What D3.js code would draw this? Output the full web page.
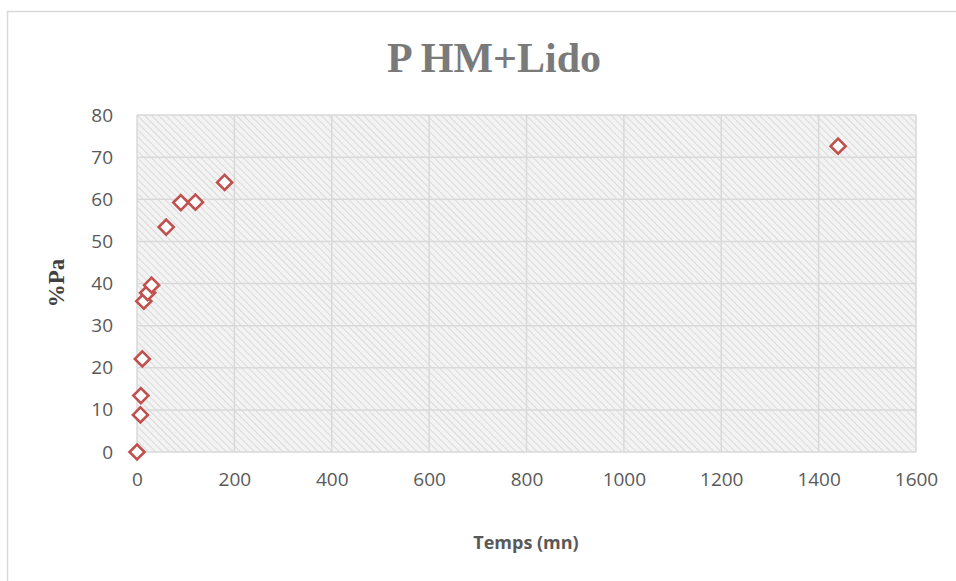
<!DOCTYPE html>
<meta charset="utf-8">
<style>
body { margin: 0; background: #fff; }
.tick text { font: 19px "Open Sans", "Liberation Sans", sans-serif; fill: #595959; }
</style>
<svg width="956" height="581"></svg>
<script src="https://d3js.org/d3.v7.min.js"></script>
<script>

// data
var temps = [0, 7, 8, 11, 14, 22, 30, 60, 90, 120, 180, 1440];
var pa    = [0, 8.8, 13.4, 22.1, 35.8, 37.8, 39.6, 53.4, 59.2, 59.3, 64.0, 72.6];
var xTicks = [0, 200, 400, 600, 800, 1000, 1200, 1400, 1600];
var yTicks = [0, 10, 20, 30, 40, 50, 60, 70, 80];

var svg = d3.select("svg");
var pLeft = 137, pRight = 916, pTop = 115, pBottom = 452;

// outer chart border
svg.append("rect")
    .attr("x", 7.5).attr("y", 11.5)
    .attr("width", 960).attr("height", 580)
    .attr("fill", "#fff").attr("stroke", "#d9d9d9").attr("stroke-width", 1.5);

var defs = svg.append("defs");
var pat = defs.append("pattern")
    .attr("id", "hatch")
    .attr("patternUnits", "userSpaceOnUse")
    .attr("width", 5).attr("height", 5)
    .attr("patternTransform", "rotate(-45)");
pat.append("rect").attr("width", 5).attr("height", 5).attr("fill", "#f3f3f3");
pat.append("line").attr("x1", 0).attr("y1", 0).attr("x2", 0).attr("y2", 5)
    .attr("stroke", "#d4d4d4").attr("stroke-width", 1.6);

var x = d3.scaleLinear().domain([0, 1600]).range([pLeft, pRight]);
var y = d3.scaleLinear().domain([0, 80]).range([pBottom, pTop]);

svg.append("rect")
    .attr("x", pLeft).attr("y", pTop)
    .attr("width", pRight - pLeft).attr("height", pBottom - pTop)
    .attr("fill", "url(#hatch)");

// grid
svg.append("g").selectAll("line").data(xTicks).join("line")
    .attr("x1", d => x(d)).attr("x2", d => x(d))
    .attr("y1", pTop).attr("y2", pBottom)
    .attr("stroke", "#d9d9d9").attr("stroke-width", 1.5);
svg.append("g").selectAll("line").data(yTicks).join("line")
    .attr("x1", pLeft).attr("x2", pRight)
    .attr("y1", d => y(d)).attr("y2", d => y(d))
    .attr("stroke", "#d9d9d9").attr("stroke-width", 1.5);

// axes (labels only)
var xAxis = svg.append("g")
    .attr("transform", "translate(0," + pBottom + ")")
    .call(d3.axisBottom(x).tickValues(xTicks).tickSize(0).tickPadding(21).tickFormat(d3.format("d")));
xAxis.select(".domain").remove();

var yAxis = svg.append("g")
    .attr("transform", "translate(" + pLeft + ",0)")
    .call(d3.axisLeft(y).tickValues(yTicks).tickSize(0).tickPadding(24).tickFormat(d3.format("d")));
yAxis.select(".domain").remove();

// points
var pts = temps.map((t, i) => [t, pa[i]]);
svg.append("g").selectAll("path").data(pts).join("path")
    .attr("transform", d => "translate(" + x(d[0]) + "," + y(d[1]) + ")")
    .attr("d", "M0,-7.5L7.5,0L0,7.5L-7.5,0Z")
    .attr("fill", "#fff")
    .attr("stroke", "#c0504d")
    .attr("stroke-width", 2.6);

// titles
svg.append("text")
    .attr("x", 494).attr("y", 72)
    .attr("text-anchor", "middle")
    .style("font", "bold 42px 'Liberation Serif', serif")
    .attr("fill", "#7a7a7a")
    .text("P HM+Lido");

svg.append("text")
    .attr("transform", "translate(64,283) rotate(-90)")
    .attr("text-anchor", "middle")
    .style("font", "bold 23px 'Liberation Serif', serif")
    .attr("fill", "#404040")
    .text("%Pa");

svg.append("text")
    .attr("x", 526).attr("y", 549)
    .attr("text-anchor", "middle")
    .style("font", "bold 18px 'Open Sans', sans-serif")
    .attr("fill", "#595959")
    .text("Temps (mn)");

</script>
